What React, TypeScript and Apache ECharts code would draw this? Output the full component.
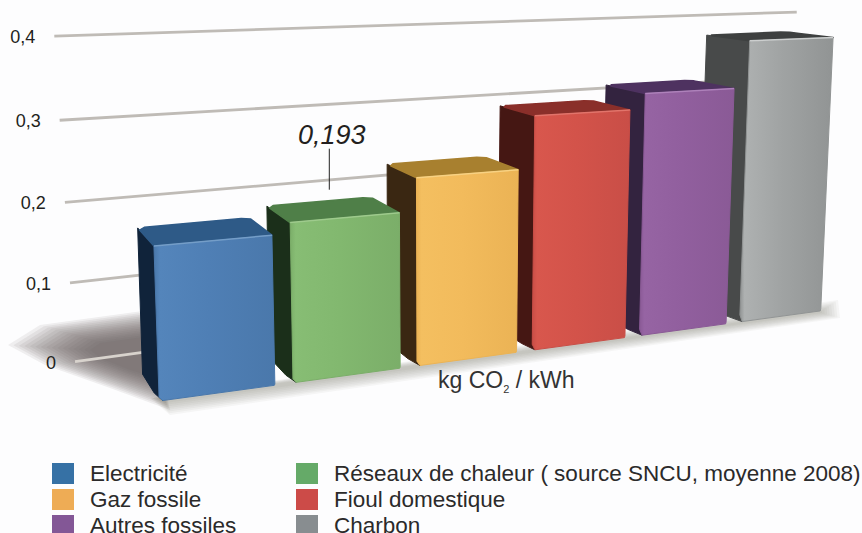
import React, { useEffect, useRef } from "react";
import * as echarts from "echarts";

const categories = ["Electricité", "Réseaux de chaleur ( source SNCU, moyenne 2008)", "Gaz fossile", "Fioul domestique", "Autres fossiles", "Charbon"];
const values = [0.18, 0.193, 0.234, 0.3, 0.32, 0.382];
const tickValues = [0, 0.1, 0.2, 0.3, 0.4];
const tickLabels = ["0", "0,1", "0,2", "0,3", "0,4"];
const legendColors = ["#3671a5", "#65aa68", "#eeac55", "#cc4b48", "#835796", "#888d90"];
const frontLight = ["#5485bb", "#87bd74", "#f4bf60", "#d8574d", "#9664a3", "#aeb1b1"];
const frontMid = ["#4f7fb5", "#82b86f", "#f2bb5c", "#d3534a", "#915f9e", "#a0a3a3"];
const frontDark = ["#4a78ab", "#7bae69", "#ebb355", "#c94e47", "#8a5a96", "#919494"];
const sideColors = ["#10233a", "#1b2f1a", "#3a2712", "#451713", "#33233f", "#484a4a"];
const topColors = ["#2e5a87", "#4f7f48", "#a8802f", "#8a2f2a", "#4e3260", "#3e4040"];
const highlightColors = ["#7fa8d0", "#a8d296", "#fbd98e", "#e87e74", "#b88cc4", "#dcdede"];
const highlightedIndex = 1;

// perspective camera, fitted on the picture
const BAR_HALF = 0.43;
const WALL_DEPTH = 0.098;
const VP = [-137, -78];
const GRID_FROM = -0.862;
const GRID_TO = 6.13;

function project(X: number, H: number, f = 0): number[] {
  const w = 1 + 0.039 * X - 0.1 * H;
  const sx = (218 + 143 * X - 44 * H) / w;
  const sy = (393 - 3 * X - 871 * H) / w;
  return [sx + f * (VP[0] - sx), sy + f * (VP[1] - sy)];
}

function barDepth(X: number): number {
  return 0.056 - 0.0015 * X;
}

function mix(a: number[], b: number[], t: number): number[] {
  return [a[0] + (b[0] - a[0]) * t, a[1] + (b[1] - a[1]) * t];
}

function world(api: any, i: number, v: number): number[] {
  const o = api.coord([0, 0]);
  const p = api.coord([i, v]);
  const t = api.coord([0, 0.1]);
  const band = api.size([1, 0])[0];
  return [(p[0] - o[0]) / band, ((o[1] - p[1]) / (o[1] - t[1])) * 0.1];
}

function barSeries(i: number) {
  return {
    type: "custom",
    name: categories[i],
    z: 20 - i,
    silent: true,
    clip: false,
    itemStyle: { color: legendColors[i] },
    encode: { x: 0, y: 1 },
    data: [[i, values[i]]],
    renderItem: (_p: any, api: any) => {
      const [X, H] = world(api, api.value(0), api.value(1));
      const l = X - BAR_HALF;
      const r = X + BAR_HALF;
      const f = barDepth(X);
      const bl = project(l, 0);
      const br = project(r, 0);
      const tl = project(l, H);
      const tr = project(r, H);
      const bbl = project(l, 0, f);
      const btl = project(l, H, f);
      const btr = project(r, H, f);
      const blCut = mix(bl, bbl, 0.3);
      const blUp = mix(bl, tl, 0.025);
      const children: any[] = [
        {
          type: "polygon",
          shape: { points: [bbl, blCut, mix(bl, br, 0.03), tl, btl] },
          style: { fill: sideColors[i], stroke: sideColors[i], lineWidth: 1, lineJoin: "round" },
        },
        {
          type: "polygon",
          shape: {
            points: [
              tl,
              tr,
              mix(tr, btr, 0.72),
              mix(tr, btr, 0.92),
              mix(btr, btl, 0.07),
              mix(btl, btr, 0.06),
              mix(btl, tl, 0.12),
            ],
          },
          style: { fill: topColors[i], stroke: topColors[i], lineWidth: 1.5, lineJoin: "round" },
        },
        {
          type: "polygon",
          shape: { points: [mix(bl, br, 0.03), mix(br, bl, 0.005), mix(br, tr, 0.008), tr, tl, blUp] },
          style: {
            fill: new echarts.graphic.LinearGradient(0, 0, 1, 0, [
              { offset: 0, color: frontDark[i] },
              { offset: 0.05, color: frontLight[i] },
              { offset: 0.45, color: frontMid[i] },
              { offset: 1, color: frontDark[i] },
            ]),
            stroke: frontDark[i],
            lineWidth: 1,
            lineJoin: "round",
          },
        },
        {
          type: "line",
          shape: { x1: tl[0], y1: tl[1], x2: tr[0], y2: tr[1] },
          style: { stroke: highlightColors[i], lineWidth: 1.5, opacity: 0.8 },
        },
      ];
      if (i === highlightedIndex) {
        const cx = (tl[0] + tr[0]) / 2;
        const cy = (tl[1] + tr[1]) / 2;
        children.push(
          {
            type: "line",
            shape: { x1: cx - 15.5, y1: cy - 69, x2: cx - 15.5, y2: cy - 28 },
            style: { stroke: "#222222", lineWidth: 1 },
          },
          {
            type: "text",
            style: {
              x: cx - 13,
              y: cy - 83,
              text: values[i].toFixed(3).replace(".", ","),
              font: "italic 27px 'Liberation Sans'",
              fill: "#231f20",
              align: "center",
              verticalAlign: "middle",
            },
          }
        );
      }
      return { type: "group", children };
    },
  };
}

function gridSeries() {
  return {
    type: "custom",
    name: "grille",
    z: 5,
    silent: true,
    clip: false,
    encode: { y: 1 },
    data: tickValues.map((v, k) => [0, v, k]),
    renderItem: (_p: any, api: any) => {
      const H = world(api, 0, api.value(1))[1];
      const k = api.value(2);
      const a = project(GRID_FROM - 0.0135 * k, H, WALL_DEPTH);
      const b = project(GRID_TO, H, WALL_DEPTH);
      const lift = 0.6 * k;
      return {
        type: "group",
        children: [
          {
            type: "line",
            shape: { x1: a[0], y1: a[1] - lift, x2: b[0], y2: b[1] },
            style: { stroke: k === 0 ? "#d8d3cd" : "#bfbbb6", lineWidth: 2.8 },
          },
          {
            type: "text",
            style: {
              x: a[0] - 19,
              y: a[1] + 1 - lift,
              text: tickLabels[k],
              font: "18px 'Liberation Sans'",
              fill: "#231f20",
              align: "right",
              verticalAlign: "middle",
            },
          },
        ],
      };
    },
  };
}

// soft shadows, stacked thin layers standing in for a blur
function softLayers(inner: number[][], outer: number[][], layers: number, alpha: number) {
  const out: any[] = [];
  for (let n = 0; n < layers; n++) {
    const t = 1 - n / (layers - 1);
    out.push({
      type: "polygon",
      z: 0,
      silent: true,
      shape: { points: inner.map((p, j) => mix(p, outer[j], t)) },
      style: { fill: `rgba(105,92,84,${alpha})` },
    });
  }
  return out;
}

const legendLefts = [52, 296];
const legendTops = [462, 488, 514];

function legendFor(i: number) {
  return {
    orient: "vertical",
    left: legendLefts[i % 2],
    top: legendTops[Math.floor(i / 2)],
    padding: 0,
    itemWidth: 22,
    itemHeight: 21,
    itemGap: 0,
    icon: "rect",
    selectedMode: false,
    data: [categories[i]],
    textStyle: {
      fontFamily: "Liberation Sans",
      fontSize: 22.5,
      lineHeight: 17,
      color: "#2b2a2a",
      padding: [0, 0, 0, 11],
    },
  };
}

export default function App() {
  const ref = useRef<HTMLDivElement>(null);
  useEffect(() => {
    const chart = echarts.init(ref.current!, null, { renderer: "svg" });
    chart.setOption({
      animation: false,
      backgroundColor: "#fdfdfe",
      grid: { left: 100, right: 100, top: 40, bottom: 170 },
      xAxis: { type: "category", data: categories, show: false },
      yAxis: { type: "value", min: 0, max: 0.4, interval: 0.1, show: false },
      legend: categories.map((_, i) => legendFor(i)),
      graphic: [
        ...softLayers(
          [[90, 350], [100, 343], [150, 336], [150, 376], [130, 370], [100, 358]],
          [[8, 345], [40, 325], [150, 310], [170, 410], [110, 388], [45, 365]],
          16,
          0.09
        ),
        ...softLayers(
          [[160, 399], [822, 311], [822, 313], [165, 403]],
          [[150, 398], [838, 300], [840, 318], [170, 415]],
          8,
          0.05
        ),
        {
          type: "text",
          left: 438,
          top: 368,
          z: 30,
          silent: true,
          style: {
            text: "{a|kg CO}{s|2}{a| / kWh}",
            rich: {
              a: { font: "23px 'Liberation Sans'", fill: "#333333", lineHeight: 30, verticalAlign: "middle" },
              s: { font: "11px 'Liberation Sans'", fill: "#333333", lineHeight: 30, verticalAlign: "bottom" },
            },
          },
        },
      ],
      series: [gridSeries(), ...categories.map((_, i) => barSeries(i))],
    });
    return () => chart.dispose();
  }, []);
  return <div ref={ref} style={{ position: "fixed", left: 0, top: 0, width: 862, height: 533 }} />;
}
